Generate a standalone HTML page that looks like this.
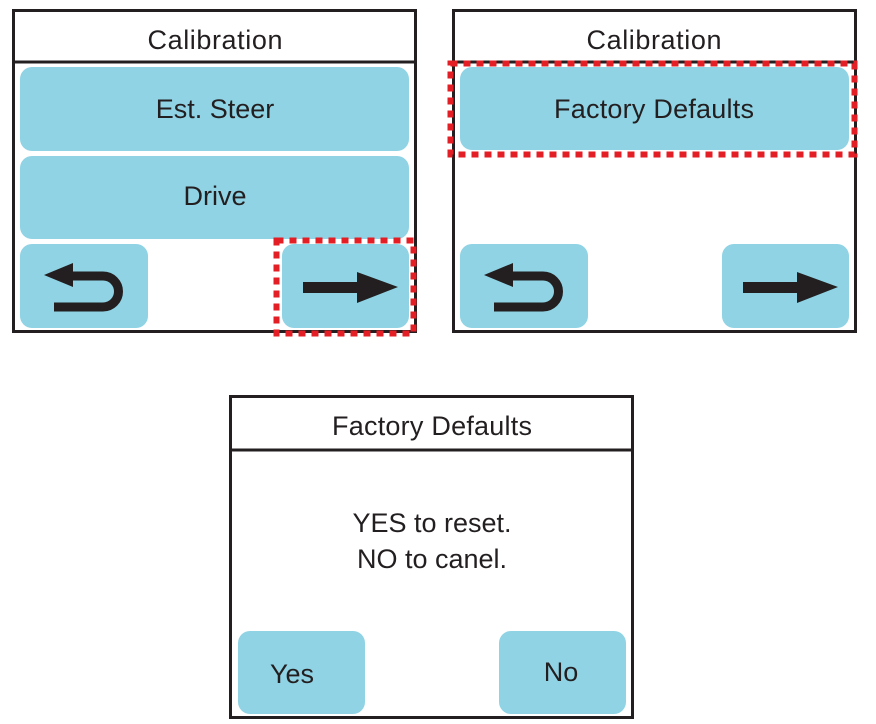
<!DOCTYPE html>
<html><head><style>
html,body{margin:0;padding:0;background:#fff;width:876px;height:724px;overflow:hidden}
svg text{font-family:"Liberation Sans",sans-serif;fill:#231f20}
</style></head><body>
<svg width="876" height="724" viewBox="0 0 876 724" xmlns="http://www.w3.org/2000/svg">
<defs>
<g id="back">
<path d="M72,276 H103 A15.5,15.5 0 0 1 103,307 H54" fill="none" stroke="#231f20" stroke-width="9"/>
<polygon points="44,275 73,263 73,287" fill="#231f20"/>
</g>
<g id="fwd">
<rect x="303" y="282" width="56" height="11" fill="#231f20"/>
<polygon points="357,272 398,287 357,303" fill="#231f20"/>
</g>
</defs>

<!-- Panel 1 -->
<rect x="13.5" y="10.5" width="402" height="321" fill="#fff" stroke="#231f20" stroke-width="3"/>
<line x1="13" y1="62" x2="416" y2="62" stroke="#231f20" stroke-width="3"/>
<text x="215" y="49" font-size="27" text-anchor="middle" textLength="135">Calibration</text>
<rect x="20" y="67" width="389" height="84" rx="12" fill="#8fd3e4"/>
<text x="215" y="118" font-size="27" text-anchor="middle">Est. Steer</text>
<rect x="20" y="156" width="389" height="83" rx="12" fill="#8fd3e4"/>
<text x="215" y="205" font-size="27" text-anchor="middle">Drive</text>
<rect x="20" y="244" width="128" height="84" rx="12" fill="#8fd3e4"/>
<use href="#back"/>
<rect x="282" y="244" width="127" height="84" rx="12" fill="#8fd3e4"/>
<use href="#fwd"/>
<rect x="276.5" y="240.5" width="137" height="93" fill="none" stroke="#e31e24" stroke-width="6" stroke-dasharray="7,6"/>

<!-- Panel 2 -->
<rect x="453.5" y="10.5" width="402" height="321" fill="#fff" stroke="#231f20" stroke-width="3"/>
<line x1="453" y1="62" x2="856" y2="62" stroke="#231f20" stroke-width="3"/>
<text x="654" y="49" font-size="27" text-anchor="middle" textLength="135">Calibration</text>
<rect x="460" y="67" width="389" height="83" rx="12" fill="#8fd3e4"/>
<text x="654" y="118" font-size="27" text-anchor="middle" textLength="200">Factory Defaults</text>
<rect x="450.5" y="63.5" width="404" height="91" fill="none" stroke="#e31e24" stroke-width="6" stroke-dasharray="7,6"/>
<rect x="460" y="244" width="128" height="84" rx="12" fill="#8fd3e4"/>
<use href="#back" transform="translate(440,0)"/>
<rect x="722" y="244" width="127" height="84" rx="12" fill="#8fd3e4"/>
<use href="#fwd" transform="translate(440,0)"/>

<!-- Panel 3 -->
<rect x="230.5" y="396.5" width="402" height="321" fill="#fff" stroke="#231f20" stroke-width="3"/>
<line x1="230" y1="450" x2="633" y2="450" stroke="#231f20" stroke-width="3"/>
<text x="432" y="435" font-size="27" text-anchor="middle" textLength="200">Factory Defaults</text>
<text x="432" y="532" font-size="27" text-anchor="middle">YES to reset.</text>
<text x="432" y="568" font-size="27" text-anchor="middle">NO to canel.</text>
<rect x="238" y="631" width="127" height="83" rx="12" fill="#8fd3e4"/>
<text x="292" y="683" font-size="27" text-anchor="middle">Yes</text>
<rect x="499" y="631" width="127" height="83" rx="12" fill="#8fd3e4"/>
<text x="561" y="681" font-size="27" text-anchor="middle">No</text>
</svg>
</body></html>
